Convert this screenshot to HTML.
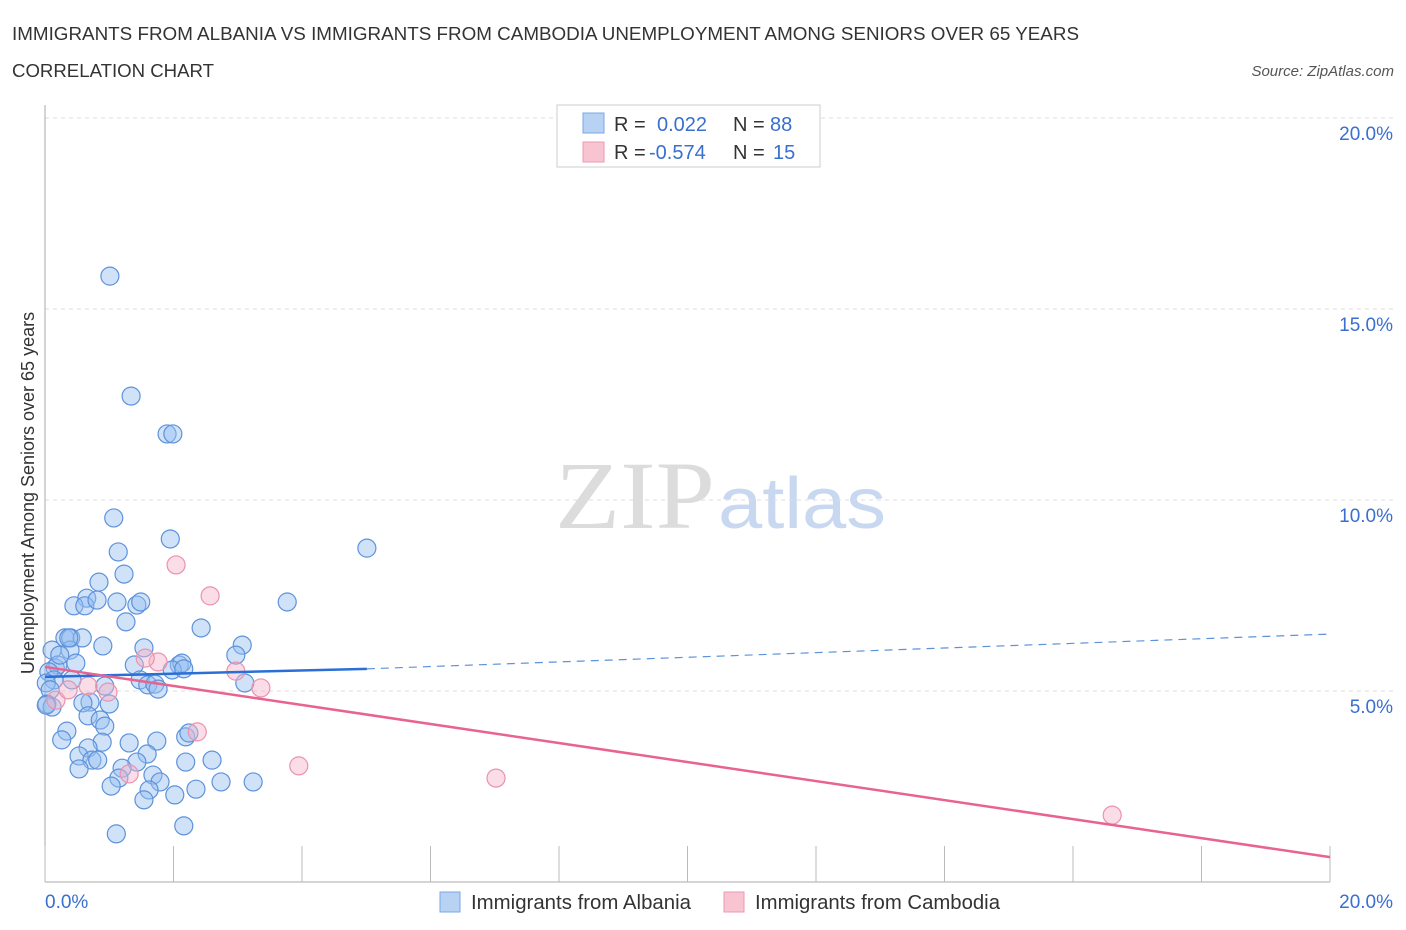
<!DOCTYPE html>
<html><head><meta charset="utf-8"><style>
body{margin:0;background:#fff;font-family:"Liberation Sans",sans-serif;}
svg{display:block}
</style></head><body>
<svg id="chart" width="1406" height="930" xmlns="http://www.w3.org/2000/svg">
<text x="12" y="40" font-size="18" fill="#333" textLength="1067" lengthAdjust="spacingAndGlyphs">IMMIGRANTS FROM ALBANIA VS IMMIGRANTS FROM CAMBODIA UNEMPLOYMENT AMONG SENIORS OVER 65 YEARS</text>
<text x="12" y="77" font-size="18" fill="#333" textLength="202" lengthAdjust="spacingAndGlyphs">CORRELATION CHART</text>
<text x="1394" y="76" font-size="15" font-style="italic" fill="#555" text-anchor="end">Source: ZipAtlas.com</text>
<g>
<text x="555" y="528" font-family="Liberation Serif,serif" font-size="96" fill="#dcdcdc" textLength="160" lengthAdjust="spacingAndGlyphs">ZIP</text>
<text x="718" y="528" font-size="72" fill="#c8d8f0" textLength="168" lengthAdjust="spacingAndGlyphs">atlas</text>
</g>
<g id="grid"></g>
<g id="axes"></g>
<g id="marks"></g>
<text transform="translate(34,493) rotate(-90)" font-size="18" fill="#333" text-anchor="middle">Unemployment Among Seniors over 65 years</text>
<g>
<rect x="557" y="105" width="263" height="62" fill="#fff" stroke="#ccc"/>
<rect x="583" y="113" width="21" height="20" fill="#b8d2f4" stroke="#7aa7e4"/>
<rect x="583" y="142" width="21" height="20" fill="#f8c4d2" stroke="#eb9ab2"/>
<text x="614" y="131" font-size="20" fill="#333">R =</text>
<text x="657" y="131" font-size="20" fill="#3a6fcf">0.022</text>
<text x="733" y="131" font-size="20" fill="#333">N =</text>
<text x="770" y="131" font-size="20" fill="#3a6fcf">88</text>
<text x="614" y="159" font-size="20" fill="#333">R =</text>
<text x="649" y="159" font-size="20" fill="#3a6fcf">-0.574</text>
<text x="733" y="159" font-size="20" fill="#333">N =</text>
<text x="773" y="159" font-size="20" fill="#3a6fcf">15</text>
</g>
<g>
<rect x="440" y="892" width="20" height="20" fill="#b8d2f4" stroke="#7aa7e4"/>
<text x="471" y="909" font-size="20" fill="#333" textLength="220" lengthAdjust="spacingAndGlyphs">Immigrants from Albania</text>
<rect x="724" y="892" width="20" height="20" fill="#f8c4d2" stroke="#eb9ab2"/>
<text x="755" y="909" font-size="20" fill="#333" textLength="245" lengthAdjust="spacingAndGlyphs">Immigrants from Cambodia</text>
</g>
</svg>
<script>
const yTicks=[5,10,15,20];
const yTickLabels=["5.0%","10.0%","15.0%","20.0%"];
const xTickLabels=["0.0%","20.0%"];
const albaniaX=[1.01,1.34,1.90,1.99,1.07,1.95,5.01,1.14,1.23,0.84,0.65,0.45,0.62,0.81,1.12,1.43,1.49,3.77,1.26,2.43,0.31,0.40,0.58,0.90,3.07,0.39,1.54,2.97,0.11,1.39,0.48,0.16,0.20,2.09,2.13,1.98,2.16,0.06,0.42,0.14,0.02,1.48,3.11,1.60,1.71,1.76,0.93,0.08,0.03,0.11,1.00,0.70,0.59,0.67,0.86,0.93,0.34,0.26,0.89,1.31,1.74,2.19,2.24,0.67,1.59,0.53,0.73,0.82,1.43,2.19,2.60,0.53,1.20,1.68,1.79,1.15,1.62,1.03,2.74,3.24,2.35,2.02,1.54,1.11,2.16,0.02,0.23,0.37];
const albaniaY=[15.86,12.72,11.73,11.73,9.53,8.98,8.74,8.64,8.06,7.85,7.43,7.23,7.23,7.38,7.33,7.25,7.33,7.33,6.81,6.65,6.39,6.39,6.39,6.18,6.20,6.07,6.13,5.94,6.07,5.68,5.73,5.60,5.68,5.68,5.73,5.55,5.58,5.50,5.29,5.29,5.21,5.29,5.21,5.16,5.18,5.05,5.13,5.03,4.66,4.58,4.66,4.71,4.69,4.35,4.24,4.08,3.95,3.72,3.66,3.64,3.69,3.80,3.90,3.51,3.35,3.30,3.19,3.19,3.14,3.14,3.19,2.96,2.98,2.80,2.62,2.72,2.41,2.51,2.62,2.62,2.43,2.28,2.15,1.26,1.47,4.63,5.94,6.39];
const cambodiaX=[2.04,2.57,1.76,1.56,2.97,3.36,0.67,0.98,2.37,3.95,1.31,7.02,16.61,0.17,0.36];
const cambodiaY=[8.30,7.49,5.76,5.86,5.52,5.08,5.13,4.97,3.93,3.04,2.83,2.72,1.75,4.76,5.03];
const albaniaTrend=[5.37,5.58,6.49];
const albaniaTrendX=[0,5.01,20];
const cambodiaTrend=[5.63,0.65];
const cambodiaTrendX=[0,20];

const X0=45,X1=1330,Y0=882,Y20=118;
const sx=v=>X0+(X1-X0)*v/20;
const sy=v=>Y0-(Y0-Y20)*v/20;
const NS="http://www.w3.org/2000/svg";
function mk(parent,tag,attrs){const e=document.createElementNS(NS,tag);for(const k in attrs)e.setAttribute(k,attrs[k]);parent.appendChild(e);return e;}
const grid=document.getElementById('grid'),axes=document.getElementById('axes'),marks=document.getElementById('marks');
yTicks.forEach((t,i)=>{
  const g=mk(grid,'line',{x1:X0,x2:1394,y1:sy(t),y2:sy(t),stroke:'#ddd','stroke-dasharray':'4,4'});
  
  
  const l=mk(axes,'text',{x:1393,y:sy(t)+22,'font-size':19,fill:'#3a6fcf','text-anchor':'end'});
  l.textContent=yTickLabels[i];
  
  
});
mk(axes,'line',{x1:X0,x2:X0,y1:105,y2:Y0,stroke:'#aaa'});
mk(axes,'line',{x1:X0,x2:X1,y1:Y0,y2:Y0,stroke:'#aaa'});
for(let i=0;i<=10;i++){
  const tk=mk(axes,'line',{x1:sx(i*2),x2:sx(i*2),y1:846,y2:Y0,stroke:'#bbb'});
  
  
}
[[0,X0,'start'],[20,1393,'end']].forEach((a,i)=>{
  const l=mk(axes,'text',{x:a[1],y:908,'font-size':19,fill:'#3a6fcf','text-anchor':a[2]});
  l.textContent=xTickLabels[i];
  
  
});
albaniaX.forEach((x,i)=>{
  const c=mk(marks,'circle',{cx:sx(x),cy:sy(albaniaY[i]),r:9,fill:'rgba(150,190,240,0.45)',stroke:'#5d92dc','stroke-width':1.2});
  
  
});
cambodiaX.forEach((x,i)=>{
  const c=mk(marks,'circle',{cx:sx(x),cy:sy(cambodiaY[i]),r:9,fill:'rgba(245,180,200,0.45)',stroke:'#eb92ae','stroke-width':1.2});
  
  
});
const tb=mk(marks,'line',{x1:sx(albaniaTrendX[0]),y1:sy(albaniaTrend[0]),x2:sx(albaniaTrendX[1]),y2:sy(albaniaTrend[1]),stroke:'#2a6fd6','stroke-width':2.5});


const td=mk(marks,'line',{x1:sx(albaniaTrendX[1]),y1:sy(albaniaTrend[1]),x2:sx(albaniaTrendX[2]),y2:sy(albaniaTrend[2]),stroke:'#5d92dc','stroke-width':1.2,'stroke-dasharray':'8,6'});


const tp=mk(marks,'line',{x1:sx(cambodiaTrendX[0]),y1:sy(cambodiaTrend[0]),x2:sx(cambodiaTrendX[1]),y2:sy(cambodiaTrend[1]),stroke:'#e8638f','stroke-width':2.5});


</script>
</body></html>
